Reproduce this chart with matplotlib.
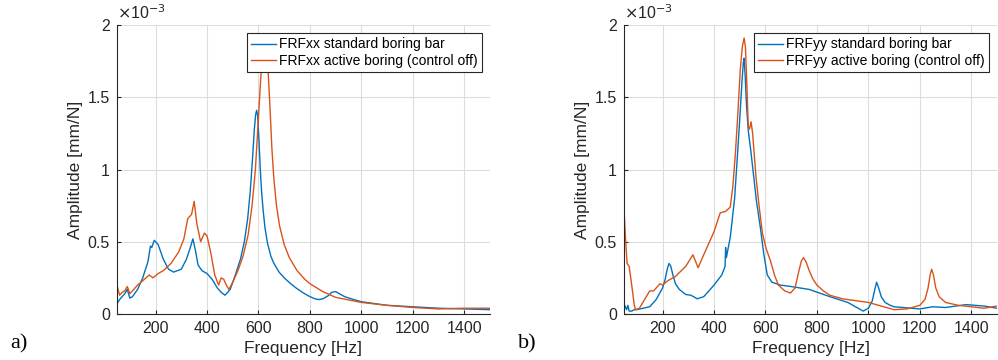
import matplotlib
matplotlib.use("Agg")
import matplotlib.pyplot as plt
from matplotlib.ticker import FuncFormatter

# amplitudes in 1e-3 mm/N
fxx_std = [50, 60, 70, 80, 90, 100, 110, 130, 150, 170, 180, 185, 195, 210, 230, 250, 270, 300, 320, 335,
           345, 355, 365, 380, 400, 420, 440, 455, 470, 490, 510, 530, 545, 558, 568, 577, 584, 589, 593,
           597, 602, 607, 612, 618, 625, 635, 648, 660, 680, 700, 725, 750, 775, 800, 820, 835, 850, 870,
           885, 900, 915, 935, 970, 1000, 1100, 1200, 1300, 1400, 1500]
axx_std = [0.07, 0.10, 0.12, 0.14, 0.17, 0.11, 0.12, 0.17, 0.25, 0.36, 0.47, 0.46, 0.51, 0.48, 0.38, 0.31,
           0.29, 0.31, 0.38, 0.46, 0.52, 0.44, 0.34, 0.30, 0.28, 0.24, 0.18, 0.15, 0.13, 0.17, 0.27, 0.38,
           0.50, 0.66, 0.85, 1.08, 1.28, 1.38, 1.41, 1.37, 1.20, 1.00, 0.85, 0.72, 0.60, 0.49, 0.40, 0.35,
           0.29, 0.25, 0.21, 0.175, 0.145, 0.12, 0.105, 0.10, 0.105, 0.125, 0.15, 0.155, 0.14, 0.12, 0.10,
           0.085, 0.06, 0.05, 0.04, 0.035, 0.03]

fxx_act = [50, 60, 70, 80, 90, 100, 110, 130, 150, 175, 190, 210, 230, 260, 290, 310, 325, 340, 350, 360,
           375, 390, 400, 415, 430, 445, 455, 465, 475, 485, 500, 520, 540, 560, 575, 588, 598, 607, 614,
           620, 626, 632, 638, 645, 652, 660, 670, 682, 700, 720, 750, 780, 800, 850, 900, 1000, 1100,
           1135, 1200, 1300, 1400, 1500]
axx_act = [0.20, 0.13, 0.15, 0.16, 0.19, 0.14, 0.16, 0.20, 0.23, 0.27, 0.25, 0.28, 0.30, 0.35, 0.43, 0.52,
           0.66, 0.69, 0.78, 0.63, 0.50, 0.56, 0.54, 0.42, 0.27, 0.20, 0.25, 0.24, 0.20, 0.17, 0.22, 0.30,
           0.40, 0.55, 0.75, 1.00, 1.30, 1.58, 1.78, 1.87, 1.90, 1.84, 1.66, 1.42, 1.15, 0.93, 0.75, 0.61,
           0.48, 0.39, 0.30, 0.24, 0.21, 0.155, 0.115, 0.08, 0.06, 0.055, 0.045, 0.035, 0.04, 0.04]

fyy_std = [50, 55, 60, 65, 70, 80, 90, 100, 150, 175, 200, 210, 218, 225, 232, 240, 250, 265, 290, 310,
           335, 360, 400, 430, 443, 445, 448, 463, 480, 490, 500, 509, 514, 517, 521, 526, 533, 543, 553,
           565, 580, 593, 607, 625, 658, 700, 770, 850, 920, 960, 980, 1000, 1015, 1025, 1032, 1040, 1050,
           1065, 1085, 1100, 1200, 1250, 1300, 1380, 1450, 1500]
ayy_std = [0.07, 0.05, 0.03, 0.06, 0.02, 0.02, 0.03, 0.03, 0.05, 0.10, 0.18, 0.24, 0.31, 0.35, 0.33, 0.27,
           0.21, 0.17, 0.135, 0.13, 0.105, 0.12, 0.20, 0.27, 0.33, 0.46, 0.39, 0.53, 0.80, 1.07, 1.35,
           1.62, 1.74, 1.77, 1.65, 1.45, 1.27, 1.13, 0.97, 0.78, 0.60, 0.42, 0.27, 0.22, 0.20, 0.19, 0.17,
           0.12, 0.08, 0.04, 0.02, 0.04, 0.09, 0.17, 0.22, 0.18, 0.12, 0.08, 0.06, 0.05, 0.035, 0.05, 0.045,
           0.065, 0.055, 0.04]

fyy_act = [50, 55, 62, 70, 80, 90, 95, 110, 130, 150, 165, 190, 200, 220, 250, 290, 318, 338, 360, 400,
           424, 445, 463, 473, 483, 493, 502, 510, 517, 522, 527, 533, 538, 544, 550, 563, 575, 588, 603,
           619, 635, 650, 675, 697, 715, 730, 740, 748, 758, 770, 785, 800, 825, 850, 900, 1000, 1100, 1150,
           1200, 1220, 1232, 1240, 1246, 1253, 1262, 1275, 1300, 1350, 1400, 1450, 1500]
ayy_act = [0.73, 0.55, 0.35, 0.33, 0.20, 0.06, 0.03, 0.04, 0.10, 0.16, 0.16, 0.21, 0.20, 0.23, 0.26, 0.33,
           0.41, 0.32, 0.41, 0.57, 0.70, 0.71, 0.74, 0.88, 1.11, 1.40, 1.69, 1.85, 1.91, 1.85, 1.62, 1.30,
           1.28, 1.33, 1.25, 0.95, 0.75, 0.56, 0.45, 0.37, 0.27, 0.20, 0.16, 0.145, 0.18, 0.30, 0.37, 0.39,
           0.36, 0.30, 0.24, 0.20, 0.16, 0.13, 0.105, 0.08, 0.03, 0.035, 0.06, 0.10, 0.18, 0.27, 0.31, 0.27,
           0.18, 0.12, 0.08, 0.06, 0.05, 0.04, 0.055]

blue = "#0072BD"
orange = "#D95319"
dark = "#262626"

plt.rcParams["font.family"] = ["Liberation Sans", "DejaVu Sans"]

fig = plt.figure(figsize=(9.98, 3.6), dpi=100)
ax1 = fig.add_axes([117 / 998, 46 / 360, 373 / 998, 289 / 360])
ax2 = fig.add_axes([624 / 998, 46 / 360, 373 / 998, 289 / 360])

panels = [
    (ax1, fxx_std, axx_std, fxx_act, axx_act, "FRFxx", "a)", 10),
    (ax2, fyy_std, ayy_std, fyy_act, ayy_act, "FRFyy", "b)", 518),
]

for ax, f1, a1, f2, a2, name, tag, tx in panels:
    ax.plot(f1, a1, color=blue, lw=1.0, label=name + " standard boring bar")
    ax.plot(f2, a2, color=orange, lw=1.0, label=name + " active boring (control off)")
    ax.set_xlim(50, 1500)
    ax.set_ylim(0, 2)
    ax.set_xticks([200, 400, 600, 800, 1000, 1200, 1400])
    ax.set_yticks([0, 0.5, 1, 1.5, 2])
    ax.yaxis.set_major_formatter(FuncFormatter(lambda v, p: "%g" % v))
    ax.grid(True, color="#dcdcdc", lw=0.8)
    ax.set_axisbelow(True)
    for s in ["top", "right"]:
        ax.spines[s].set_visible(False)
    for s in ["left", "bottom"]:
        ax.spines[s].set_color(dark)
        ax.spines[s].set_linewidth(0.8)
    ax.tick_params(direction="in", length=3, colors=dark, labelsize=11.5, labelcolor=dark, pad=5)
    ax.set_xlabel("Frequency [Hz]", fontsize=12.5, color=dark, labelpad=4)
    ax.set_ylabel("Amplitude [mm/N]", fontsize=12.5, color=dark)
    ax.yaxis.set_label_coords(-0.09, 0.5)
    ax.text(0.0, 1.01, r"$\times$10$^{-3}$", transform=ax.transAxes, fontsize=11.5, color=dark,
            ha="left", va="bottom")
    leg = ax.legend(loc="upper right", fontsize=10, frameon=True, fancybox=False,
                    borderaxespad=0.6, handlelength=1.8, handletextpad=0.2,
                    borderpad=0.3, labelspacing=0.15)
    leg.get_frame().set_edgecolor(dark)
    leg.get_frame().set_linewidth(0.8)
    leg.get_frame().set_alpha(1)
    fig.text(tx / 998, 1 - 344 / 360, tag, fontsize=16, family="Liberation Serif", va="center")

fig.savefig("out.png", dpi=100)
